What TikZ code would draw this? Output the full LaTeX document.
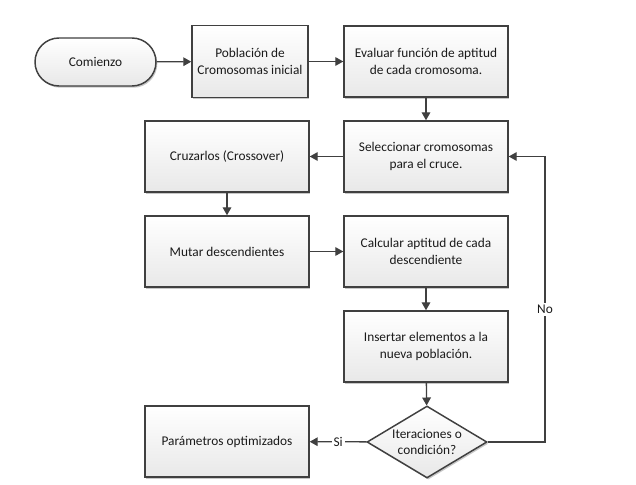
\documentclass[tikz,border=0pt]{standalone}
\usepackage{fontspec}
\setmainfont{Carlito}
\usetikzlibrary{arrows.meta,shapes.geometric,shadows}
\definecolor{linec}{HTML}{404040}
\definecolor{txtc}{HTML}{1A1A1A}
\begin{document}
\begin{tikzpicture}[x=0.75pt,y=-0.75pt,
  font=\fontsize{10}{12.5}\selectfont,
  every node/.style={text=txtc},
  shad/.style={drop shadow={shadow xshift=1pt,shadow yshift=-1.3pt,fill=black!22,opacity=1}},
  box/.style={draw=linec,line width=1.1pt,top color=white,bottom color=black!9,
    minimum width=123pt,minimum height=53.25pt,align=center,inner sep=0pt,shad},
  startbox/.style={box,rounded corners=18pt,minimum width=90.75pt,minimum height=36pt},
  decbox/.style={diamond,draw=linec,line width=1.1pt,top color=white,bottom color=black!9,
    minimum width=90pt,minimum height=54pt,aspect=1.67,align=center,inner sep=0pt,shad},
  arr/.style={draw=linec,line width=1pt,-{Triangle[length=6pt,width=6.5pt]}},
  lbl/.style={fill=white,inner sep=1.5pt}]
\useasboundingbox (0,0) rectangle (636,485);

\node[startbox] (start) at (95.5,62) {Comienzo};
\node[box,minimum width=87pt,minimum height=54pt] (pob) at (250,61.5) {Población de\\Cromosomas inicial};
\node[box] (eval) at (426,61.5) {Evaluar función de aptitud\\de cada cromosoma.};
\node[box] (sel) at (426,156.5) {Seleccionar cromosomas\\para el cruce.};
\node[box] (cruz) at (227,156.5) {Cruzarlos (Crossover)};
\node[box] (mut) at (227,251.5) {Mutar descendientes};
\node[box] (calc) at (426,251.5) {Calcular aptitud de cada\\descendiente};
\node[box] (ins) at (426,346.5) {Insertar elementos a la\\nueva población.};
\node[decbox] (dec) at (427,442) {Iteraciones o\\condición?};
\node[box] (par) at (227,441.5) {Parámetros optimizados};

\coordinate (loopx) at (545,0);

\draw[arr] (start) -- (pob);
\draw[arr] (pob) -- (eval);
\draw[arr] (eval) -- (sel);
\draw[arr] (sel) -- (cruz);
\draw[arr] (cruz) -- (mut);
\draw[arr] (mut) -- (calc);
\draw[arr] (calc) -- (ins);
\draw[arr] (ins) -- (dec);
\draw[arr] (dec) -- node[lbl] {Si} (par);
\draw[arr] (dec.east) -- (dec.east -| loopx) -- node[lbl,pos=0.465] {No} (sel.east -| loopx) -- (sel.east);
\end{tikzpicture}
\end{document}
